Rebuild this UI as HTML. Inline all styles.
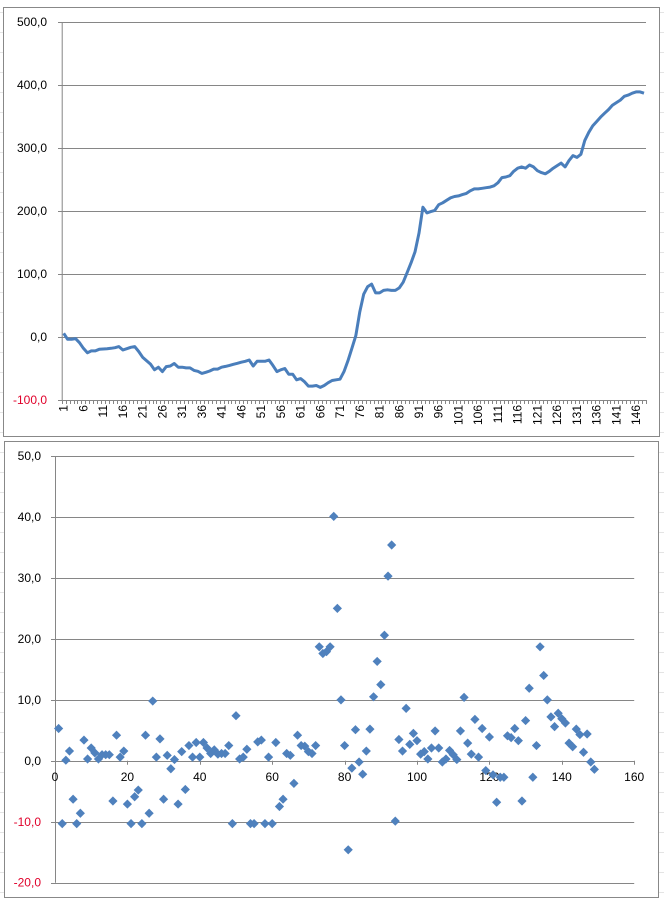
<!DOCTYPE html>
<html><head><meta charset="utf-8"><style>
body{margin:0;background:#fff;}
svg{display:block;font-family:"Liberation Sans",sans-serif;}
</style></head><body>
<svg id="svg" width="664" height="904" viewBox="0 0 664 904">
<g id="bg"></g>
<rect x="3.5" y="7.5" width="656" height="429" fill="#fff" stroke="#888"/>
<rect x="4.5" y="441.5" width="654" height="456" fill="#fff" stroke="#888"/>
<g id="topChart"></g>
<g id="botChart"></g>
</svg>
<script>
const lineValues=[5.8,-3.7,-3.7,-2.6,-9,-18,-25,-22,-22,-19.6,-19,-18.5,-18,-17,-15.3,-20.6,-18.5,-16.4,-15.3,-23,-32,-37.6,-43,-52,-48,-55,-47,-46,-42,-48,-48,-49,-49,-53,-54.5,-57.7,-56,-54,-51,-51,-48,-46.6,-45,-43.4,-41.8,-40,-38.6,-36.5,-46,-38.6,-38.6,-38.6,-36.5,-45,-55,-52,-50,-59,-59,-68,-66,-71,-78,-78,-77,-80,-77,-72.5,-69,-68,-67,-55,-38,-18,2,40,68,80,84,70,70,74,75,74,74,78,87,102,118,135,165,206,197,199,201,210,213,217,221,223,224,226,228,232,235,235,236,237,238,240,245,253,254,256,263,268,270,268,273,270,264,261,259,263,268,272,276,270,280,288,285,290,312,325,335,342,349,355,361,368,372,376,382,384,387,389,389,387];
const lineTicks=[500,400,300,200,100,0,-100];
const scatterValues=[5.3,-10.3,0.1,1.6,-6.3,-10.3,-8.6,3.4,0.3,2.1,1.3,0.3,1.0,1.0,1.0,-6.6,4.2,0.6,1.6,-7.1,-10.3,-5.9,-4.8,-10.3,4.2,-8.6,9.8,0.6,3.6,-6.3,0.9,-1.3,0.2,-7.1,1.5,-4.7,2.5,0.6,3.0,0.6,3.0,2.1,1.2,1.8,1.1,1.2,1.2,2.5,-10.3,7.4,0.3,0.6,1.9,-10.3,-10.3,3.1,3.4,-10.3,0.6,-10.3,3.0,-7.5,-6.3,1.2,0.9,-3.7,4.2,2.5,2.4,1.5,1.2,2.5,18.7,17.6,17.9,18.7,40.1,25.0,10.0,2.5,-14.6,-1.2,5.1,-0.2,-2.2,1.6,5.2,10.5,16.3,12.5,20.6,30.3,35.4,-9.9,3.5,1.6,8.6,2.7,4.5,3.3,1.1,1.5,0.3,2.1,4.9,2.1,-0.2,0.3,1.7,1.0,0.2,4.9,10.4,2.9,1.1,6.8,0.6,5.3,-1.6,3.9,-2.3,-6.8,-2.7,-2.7,4.1,3.8,5.3,3.3,-6.6,6.6,11.9,-2.7,2.5,18.7,14.0,10.0,7.2,5.6,7.8,6.9,6.2,2.9,2.3,5.2,4.3,1.4,4.4,-0.2,-1.4];
const scatterYTicks=[50,40,30,20,10,0,-10,-20];
const scatterXTicks=[0,20,40,60,80,100,120,140,160];

const NS="http://www.w3.org/2000/svg";
function mk(parent,tag,attrs,text){const e=document.createElementNS(NS,tag);for(const k in attrs)e.setAttribute(k,attrs[k]);if(text!==undefined)e.textContent=text;parent.appendChild(e);return e;}
const fmt=v=>v.toFixed(1).replace('.',',');

const bgG=document.getElementById('bg');
for(let y=12;y<904;y+=20){const l=mk(bgG,'line',{x1:0,x2:664,y1:y+.5,y2:y+.5,stroke:'#e4e4e4'});

}

// TOP line chart
const topG=document.getElementById('topChart');
const L0=61.7,R0=646,nCat=lineValues.length,cw=(R0-L0)/nCat;
const yTop=v=>337-v*0.63;
const xTop=i=>L0+(i+0.5)*cw;
lineTicks.forEach(t=>{
 const g=mk(topG,'line',{x1:58,x2:R0,y1:Math.round(yTop(t))+.5,y2:Math.round(yTop(t))+.5,stroke:'#868686'});
 
 
 const tx=mk(topG,'text',{x:47,y:yTop(t)+4,'text-anchor':'end','font-size':12,fill:t<0?'#e0002a':'#000'},fmt(t));
 
 
});
const ya=mk(topG,'line',{x1:L0+.5,x2:L0+.5,y1:yTop(500),y2:yTop(-100),stroke:'#868686'});


for(let i=0;i<=nCat;i++){const x=Math.round(L0+i*cw)+.5;
 const tk=mk(topG,'line',{x1:x,x2:x,y1:yTop(-100),y2:yTop(-100)+4,stroke:'#868686'});
 
 }
for(let i=0;i<nCat;i+=5){const x=xTop(i)+4;
 const tx=mk(topG,'text',{x:0,y:0,transform:`translate(${x},405) rotate(-90)`,'text-anchor':'end','font-size':12,fill:'#000'},String(i+1));
 
 }
const pts=lineValues.map((v,i)=>xTop(i).toFixed(1)+','+yTop(v).toFixed(1)).join(' ');
const pl=mk(topG,'polyline',{points:pts,fill:'none',stroke:'#4a7ebb','stroke-width':3,'stroke-linejoin':'round'});



// BOTTOM scatter chart
const botG=document.getElementById('botChart');
const X0=55,xs=3.62,Y0=760.8,ys=6.096;
const xB=v=>X0+v*xs, yB=v=>Y0-v*ys;
scatterYTicks.forEach(t=>{
 const g=mk(botG,'line',{x1:51,x2:xB(160),y1:Math.round(yB(t))+.5,y2:Math.round(yB(t))+.5,stroke:'#868686'});
 
 
 const tx=mk(botG,'text',{x:41,y:yB(t)+4,'text-anchor':'end','font-size':12,fill:t<0?'#e0002a':'#000'},fmt(t));
 
 
});
const ya2=mk(botG,'line',{x1:X0+.5,x2:X0+.5,y1:yB(50),y2:yB(-20),stroke:'#868686'});


scatterXTicks.forEach(t=>{
 const tk=mk(botG,'line',{x1:Math.round(xB(t))+.5,x2:Math.round(xB(t))+.5,y1:Y0,y2:Y0+4,stroke:'#868686'});
 
 
 const tx=mk(botG,'text',{x:xB(t),y:Y0+20,'text-anchor':'middle','font-size':12,fill:'#000'},String(t));
 
 
});
scatterValues.forEach((v,i)=>{const cx=xB(i+1),cy=yB(v),r=4.6;
 const d=mk(botG,'polygon',{points:`${cx},${cy-r} ${cx+r},${cy} ${cx},${cy+r} ${cx-r},${cy}`,fill:'#4f81bd'});
 
 });
</script>
</body></html>
